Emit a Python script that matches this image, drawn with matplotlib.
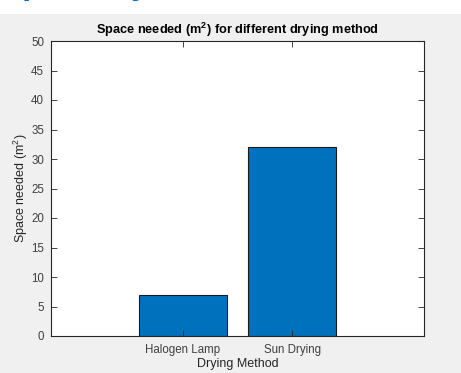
import matplotlib
matplotlib.use('Agg')
import matplotlib.pyplot as plt
from matplotlib.patches import Rectangle

methods = ['Halogen Lamp', 'Sun Drying']
space_needed = [7, 32]
yticks = list(range(0, 55, 5))

plt.rcParams['font.family'] = ['Liberation Sans', 'DejaVu Sans']
plt.rcParams['mathtext.fontset'] = 'custom'
plt.rcParams['mathtext.rm'] = 'Liberation Sans'
plt.rcParams['mathtext.bf'] = 'Liberation Sans:bold'

fig = plt.figure(figsize=(4.61, 3.73), dpi=100)
fig.patch.set_facecolor('#f0f0f0')

# white strip at the top with the cut-off heading
fig.patches.append(Rectangle((0, 359 / 373), 1, 14 / 373, transform=fig.transFigure,
                             facecolor='white', edgecolor='none', zorder=0))
fig.text(22 / 461, 1.015, 'p', color='#0072bd', fontsize=24, fontweight='bold',
         ha='left', va='baseline')
fig.text(131 / 461, 1.015, 'y', color='#0072bd', fontsize=24, fontweight='bold',
         ha='left', va='baseline')

ax = fig.add_axes([51 / 461, 37 / 373, 373 / 461, 295 / 373])
pos = list(range(1, len(methods) + 1))
ax.bar(pos, space_needed, width=0.8, color='#0072bd', edgecolor='#1a1a1a', linewidth=0.8)

ax.set_xlim(-0.2, 3.2)
ax.set_ylim(0, 50)
ax.set_xticks(pos)
ax.set_xticklabels(methods)
ax.set_yticks(yticks)

grey = '#262626'
for s in ax.spines.values():
    s.set_color(grey)
    s.set_linewidth(0.8)
ax.tick_params(direction='in', length=4, width=0.6, colors=grey, labelcolor='#404040',
               labelsize=8.3, top=True, right=True)
ax.tick_params(axis='y', pad=5)
ax.tick_params(axis='x', pad=6)

ax.set_title(r'Space needed (m$^{\mathbf{2}}$) for different drying method',
             fontsize=9.2, fontweight='bold', color='black', pad=5)
ax.set_xlabel('Drying Method', fontsize=9, color='#262626', labelpad=1)
ax.set_ylabel(r'Space needed (m$^2$)', fontsize=9, color='#262626', labelpad=0.5)

fig.savefig('out.png', dpi=100, facecolor=fig.get_facecolor())
